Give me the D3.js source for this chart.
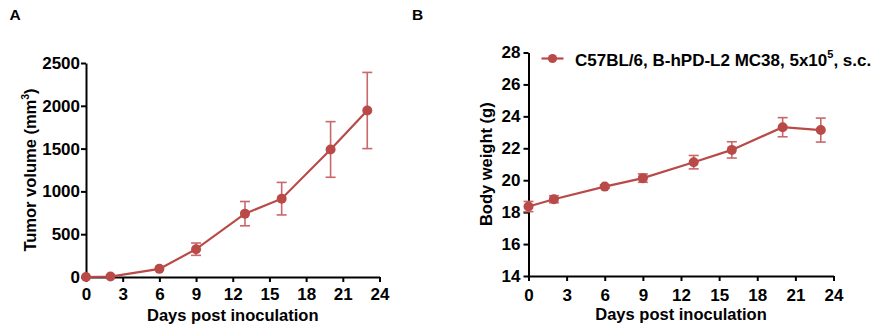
<!DOCTYPE html>
<html><head><meta charset="utf-8">
<script src="https://cdn.jsdelivr.net/npm/d3@7"></script>
<style>
body{margin:0;background:#fff;}
svg{display:block;font-family:"Liberation Sans",Arial,sans-serif;}
</style></head><body>
<svg id="c" width="883" height="331"></svg>
<script>
const days = [0, 2, 6, 9, 13, 16, 20, 23];
const tumorMean = [0, 5, 95, 325, 740, 915, 1490, 1945];
const tumorSEM = [0, 0, 0, 72, 142, 190, 325, 445];
const weightMean = [18.35, 18.81, 19.60, 20.13, 21.13, 21.90, 23.32, 23.14];
const weightSEM = [0.32, 0.22, 0.10, 0.26, 0.42, 0.51, 0.60, 0.75];
const xTicks = [0, 3, 6, 9, 12, 15, 18, 21, 24];
const tumorTicks = [0, 500, 1000, 1500, 2000, 2500];
const weightTicks = [14, 16, 18, 20, 22, 24, 26, 28];
const legendLabel = "C57BL/6, B-hPD-L2 MC38, 5x10";

const color = "#b94a48";
const errColor = "#c9676a";
const svg = d3.select("#c");
const FF = "'Liberation Sans',Arial,sans-serif";

function panel(cfg){
  const g = svg.append("g");
  const x = d3.scaleLinear().domain([0,24]).range([cfg.x0, cfg.x1]);
  const y = d3.scaleLinear().domain(cfg.ydom).range([cfg.y0, cfg.y1]);
  const xa = g.append("g").attr("transform",`translate(0,${cfg.y0})`)
    .call(d3.axisBottom(x).tickValues(xTicks).tickFormat(d3.format("d")).tickSize(5).tickPadding(cfg.xpad).tickSizeOuter(0));
  const ya = g.append("g").attr("transform",`translate(${cfg.x0},0)`)
    .call(d3.axisLeft(y).tickValues(cfg.yticks).tickFormat(d3.format("d")).tickSize(5).tickPadding(cfg.ypad).tickSizeOuter(0));
  [xa,ya].forEach(a=>{
    a.attr("font-size",17).attr("font-family",FF);
    a.select(".domain").attr("stroke","#000").attr("stroke-width",2);
    a.selectAll(".tick line").attr("stroke","#000").attr("stroke-width",2);
    a.selectAll(".tick text").attr("fill","#000").attr("font-size",17).attr("font-weight","bold");
  });
  g.append("text").attr("x",(cfg.x0+cfg.x1)/2).attr("y",cfg.y0+43.5).attr("text-anchor","middle")
    .attr("font-size",16.5).attr("font-weight","bold").text("Days post inoculation");
  const yt = g.append("text").attr("transform",`translate(${cfg.ytx},${(cfg.y0+cfg.y1)/2}) rotate(-90)`)
    .attr("text-anchor","middle").attr("font-size",16.5).attr("font-weight","bold");
  yt.append("tspan").text(cfg.ytitle);
  if(cfg.sup){
    yt.append("tspan").attr("font-size",10.5).attr("dy",-7).text(cfg.sup);
    yt.append("tspan").attr("dy",7).text(")");
  }
  const eb = g.append("g").attr("stroke",errColor).attr("stroke-width",1.6).attr("fill","none");
  days.forEach((d,i)=>{
    const s = cfg.sem[i]; if(!s) return;
    const m = cfg.mean[i];
    const cx = x(d), yt1 = y(m+s), yb = y(m-s);
    eb.append("line").attr("x1",cx).attr("x2",cx).attr("y1",yt1).attr("y2",yb);
    eb.append("line").attr("x1",cx-5).attr("x2",cx+5).attr("y1",yt1).attr("y2",yt1);
    eb.append("line").attr("x1",cx-5).attr("x2",cx+5).attr("y1",yb).attr("y2",yb);
  });
  const line = d3.line().x((d,i)=>x(days[i])).y(d=>y(d));
  g.append("path").datum(cfg.mean).attr("d",line).attr("fill","none").attr("stroke",color).attr("stroke-width",2.2);
  g.selectAll("circle.pt").data(cfg.mean).join("circle").attr("class","pt")
    .attr("cx",(d,i)=>x(days[i])).attr("cy",d=>y(d)).attr("r",5).attr("fill",color);
}

panel({x0:86,x1:379.5,y0:277,y1:63,ydom:[0,2500],yticks:tumorTicks,mean:tumorMean,sem:tumorSEM,
  ytx:35.5,ytitle:"Tumor volume (mm",sup:"3",xpad:6,ypad:1});
panel({x0:528.5,x1:833.5,y0:276,y1:52.5,ydom:[14,28],yticks:weightTicks,mean:weightMean,sem:weightSEM,
  ytx:491.5,ytitle:"Body weight (g)",xpad:7.5,ypad:3});

svg.append("text").attr("x",9.5).attr("y",19.5).attr("font-size",15.5).attr("font-weight","bold").text("A");
svg.append("text").attr("x",412).attr("y",19.5).attr("font-size",15.5).attr("font-weight","bold").text("B");

const lg = svg.append("g");
lg.append("line").attr("x1",541.5).attr("x2",563.5).attr("y1",58.5).attr("y2",58.5).attr("stroke",color).attr("stroke-width",2.2);
lg.append("circle").attr("cx",552.5).attr("cy",58.5).attr("r",4.6).attr("fill",color);
const lt = lg.append("text").attr("x",575).attr("y",66).attr("font-size",17).attr("font-weight","bold");
lt.append("tspan").text(legendLabel);
lt.append("tspan").attr("font-size",11).attr("dy",-8).text("5");
lt.append("tspan").attr("dy",8).text(", s.c.");
</script>
</body></html>
